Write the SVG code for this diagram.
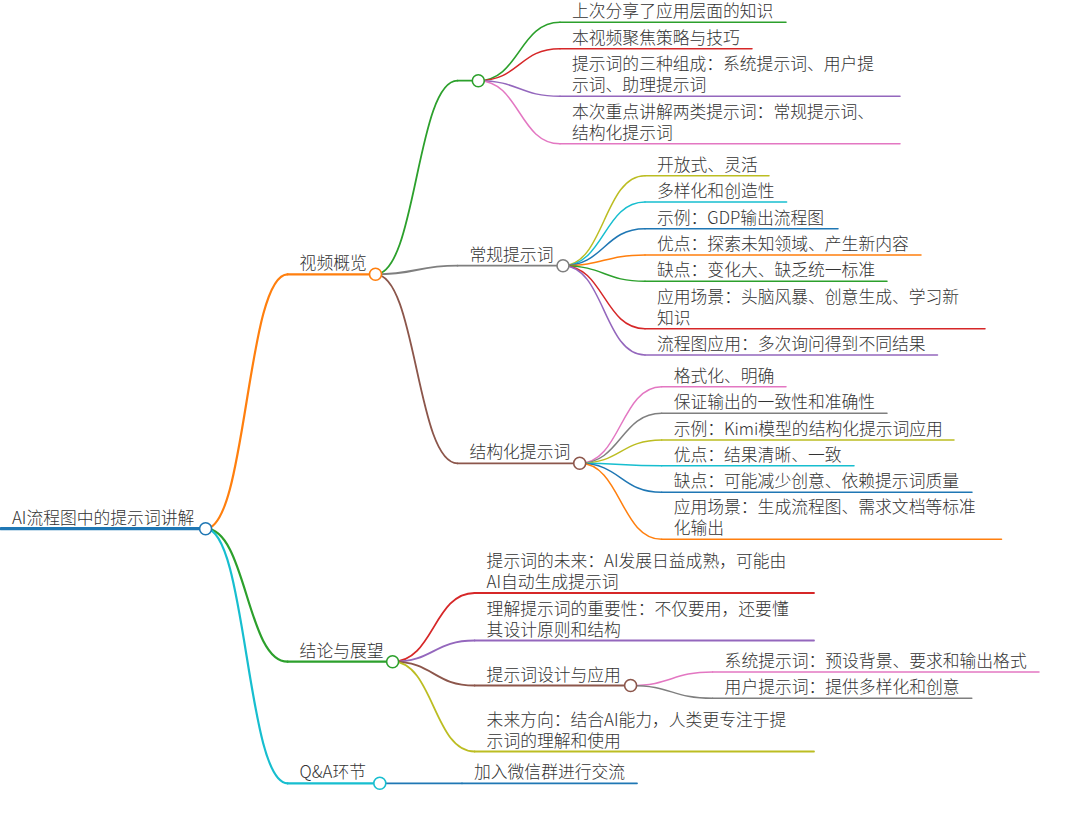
<svg xmlns="http://www.w3.org/2000/svg" width="1080" height="820" viewBox="0 0 1080 820">
<style>
text{font-family:"Noto Sans CJK SC","Noto Sans",sans-serif;font-size:16.8px;font-weight:300;fill:#333}
path{fill:none;stroke-linecap:round}
circle{fill:#fff;stroke-width:1.6}
.d0{stroke-width:3.2}.d1{stroke-width:2.2}.d2{stroke-width:1.8}.d3{stroke-width:1.5}
.blue{stroke:#1f77b4}.orange{stroke:#ff7f0e}.green{stroke:#2ca02c}.red{stroke:#d62728}.purple{stroke:#9467bd}
.brown{stroke:#8c564b}.pink{stroke:#e377c2}.gray{stroke:#7f7f7f}.olive{stroke:#bcbd22}.cyan{stroke:#17becf}
</style>
<rect width="1080" height="820" fill="#fff"/>
<g id="connectors">
<path class="d1 orange" d="M205.6 528.7C246.6 528.7 246.6 274.3 287.6 274.3"/>
<path class="d1 green" d="M205.6 528.7C246.6 528.7 246.6 661.7 287.6 661.7"/>
<path class="d1 cyan" d="M205.6 528.7C246.6 528.7 246.6 783.3 287.6 783.3"/>
<path class="d2 green" d="M375.5 274.3C416.5 274.3 416.5 80.7 457.5 80.7"/>
<path class="d2 gray" d="M375.5 274.3C416.5 274.3 416.5 265.7 457.5 265.7"/>
<path class="d2 brown" d="M375.5 274.3C416.5 274.3 416.5 463.3 457.5 463.3"/>
<path class="d3 green" d="M478.3 80.7C519.2 80.7 519.2 22.3 560 22.3"/>
<path class="d3 red" d="M478.3 80.7C519.2 80.7 519.2 48.7 560 48.7"/>
<path class="d3 purple" d="M478.3 80.7C519.2 80.7 519.2 96.3 560 96.3"/>
<path class="d3 pink" d="M478.3 80.7C519.2 80.7 519.2 143.8 560 143.8"/>
<path class="d3 olive" d="M563 265.7C604 265.7 604 175.7 645 175.7"/>
<path class="d3 cyan" d="M563 265.7C604 265.7 604 202 645 202"/>
<path class="d3 blue" d="M563 265.7C604 265.7 604 228.7 645 228.7"/>
<path class="d3 orange" d="M563 265.7C604 265.7 604 255 645 255"/>
<path class="d3 green" d="M563 265.7C604 265.7 604 281.3 645 281.3"/>
<path class="d3 red" d="M563 265.7C604 265.7 604 328.7 645 328.7"/>
<path class="d3 purple" d="M563 265.7C604 265.7 604 355 645 355"/>
<path class="d3 pink" d="M579.7 463.3C620.7 463.3 620.7 386.7 661.7 386.7"/>
<path class="d3 gray" d="M579.7 463.3C620.7 463.3 620.7 413.3 661.7 413.3"/>
<path class="d3 olive" d="M579.7 463.3C620.7 463.3 620.7 440 661.7 440"/>
<path class="d3 cyan" d="M579.7 463.3C620.7 463.3 620.7 465.7 661.7 465.7"/>
<path class="d3 blue" d="M579.7 463.3C620.7 463.3 620.7 492.3 661.7 492.3"/>
<path class="d3 orange" d="M579.7 463.3C620.7 463.3 620.7 539.3 661.7 539.3"/>
<path class="d2 red" d="M392.6 661.7C433.6 661.7 433.6 593 474.6 593"/>
<path class="d2 purple" d="M392.6 661.7C433.6 661.7 433.6 640.5 474.6 640.5"/>
<path class="d2 brown" d="M392.6 661.7C433.6 661.7 433.6 685.5 474.6 685.5"/>
<path class="d2 olive" d="M392.6 661.7C433.6 661.7 433.6 751.5 474.6 751.5"/>
<path class="d3 pink" d="M630.6 685.5C671.6 685.5 671.6 672 712.6 672"/>
<path class="d3 gray" d="M630.6 685.5C671.6 685.5 671.6 698.3 712.6 698.3"/>
<path class="d2 blue" d="M379.8 783.3H462"/>
</g>
<g id="root"><path class="d0 blue" d="M1 528.7H205.6"/><text x="12" y="523.7">AI流程图中的提示词讲解</text><circle class="blue" cx="205.6" cy="528.7" r="6"/></g>
<g id="n-overview"><path class="d1 orange" d="M287.6 274.3H375.5"/><text x="299.6" y="269.3">视频概览</text><circle class="orange" cx="375.5" cy="274.3" r="6"/></g>
<g id="n-intro"><path class="d2 green" d="M457.5 80.7H478.3"/><circle class="green" cx="478.3" cy="80.7" r="6"/></g>
<g id="n-intro-1"><path class="d3 green" d="M560 22.3H786"/><text x="572" y="17.3">上次分享了应用层面的知识</text></g>
<g id="n-intro-2"><path class="d3 red" d="M560 48.7H752"/><text x="572" y="43.7">本视频聚焦策略与技巧</text></g>
<g id="n-intro-3"><path class="d3 purple" d="M560 96.3H900"/><text x="572" y="70.3">提示词的三种组成：系统提示词、用户提</text><text x="572" y="91.3">示词、助理提示词</text></g>
<g id="n-intro-4"><path class="d3 pink" d="M560 143.8H900"/><text x="572" y="117.8">本次重点讲解两类提示词：常规提示词、</text><text x="572" y="138.8">结构化提示词</text></g>
<g id="n-regular"><path class="d2 gray" d="M457.5 265.7H563"/><text x="469.5" y="260.7">常规提示词</text><circle class="gray" cx="563" cy="265.7" r="6"/></g>
<g id="n-regular-1"><path class="d3 olive" d="M645 175.7H769"/><text x="657" y="170.7">开放式、灵活</text></g>
<g id="n-regular-2"><path class="d3 cyan" d="M645 202H786.6"/><text x="657" y="197">多样化和创造性</text></g>
<g id="n-regular-3"><path class="d3 blue" d="M645 228.7H838"/><text x="657" y="223.7">示例：GDP输出流程图</text></g>
<g id="n-regular-4"><path class="d3 orange" d="M645 255H921"/><text x="657" y="250">优点：探索未知领域、产生新内容</text></g>
<g id="n-regular-5"><path class="d3 green" d="M645 281.3H887"/><text x="657" y="276.3">缺点：变化大、缺乏统一标准</text></g>
<g id="n-regular-6"><path class="d3 red" d="M645 328.7H985"/><text x="657" y="302.7">应用场景：头脑风暴、创意生成、学习新</text><text x="657" y="323.7">知识</text></g>
<g id="n-regular-7"><path class="d3 purple" d="M645 355H937.5"/><text x="657" y="350">流程图应用：多次询问得到不同结果</text></g>
<g id="n-struct"><path class="d2 brown" d="M457.5 463.3H579.7"/><text x="469.5" y="458.3">结构化提示词</text><circle class="brown" cx="579.7" cy="463.3" r="6"/></g>
<g id="n-struct-1"><path class="d3 pink" d="M661.7 386.7H786"/><text x="673.7" y="381.7">格式化、明确</text></g>
<g id="n-struct-2"><path class="d3 gray" d="M661.7 413.3H887"/><text x="673.7" y="408.3">保证输出的一致性和准确性</text></g>
<g id="n-struct-3"><path class="d3 olive" d="M661.7 440H954"/><text x="673.7" y="435">示例：Kimi模型的结构化提示词应用</text></g>
<g id="n-struct-4"><path class="d3 cyan" d="M661.7 465.7H854"/><text x="673.7" y="460.7">优点：结果清晰、一致</text></g>
<g id="n-struct-5"><path class="d3 blue" d="M661.7 492.3H972"/><text x="673.7" y="487.3">缺点：可能减少创意、依赖提示词质量</text></g>
<g id="n-struct-6"><path class="d3 orange" d="M661.7 539.3H1001.5"/><text x="673.7" y="513.3">应用场景：生成流程图、需求文档等标准</text><text x="673.7" y="534.3">化输出</text></g>
<g id="n-conclusion"><path class="d1 green" d="M287.6 661.7H392.6"/><text x="299.6" y="656.7">结论与展望</text><circle class="green" cx="392.6" cy="661.7" r="6"/></g>
<g id="n-concl-1"><path class="d2 red" d="M474.6 593H814"/><text x="486.6" y="567">提示词的未来：AI发展日益成熟，可能由</text><text x="486.6" y="588">AI自动生成提示词</text></g>
<g id="n-concl-2"><path class="d2 purple" d="M474.6 640.5H814"/><text x="486.6" y="614.5">理解提示词的重要性：不仅要用，还要懂</text><text x="486.6" y="635.5">其设计原则和结构</text></g>
<g id="n-design"><path class="d2 brown" d="M474.6 685.5H630.6"/><text x="486.6" y="680.5">提示词设计与应用</text><circle class="brown" cx="630.6" cy="685.5" r="6"/></g>
<g id="n-design-1"><path class="d3 pink" d="M712.6 672H1039"/><text x="724.6" y="667">系统提示词：预设背景、要求和输出格式</text></g>
<g id="n-design-2"><path class="d3 gray" d="M712.6 698.3H971.8"/><text x="724.6" y="693.3">用户提示词：提供多样化和创意</text></g>
<g id="n-concl-4"><path class="d2 olive" d="M474.6 751.5H814"/><text x="486.6" y="725.5">未来方向：结合AI能力，人类更专注于提</text><text x="486.6" y="746.5">示词的理解和使用</text></g>
<g id="n-qa"><path class="d1 cyan" d="M287.6 783.3H379.8"/><text x="299.6" y="778.3">Q&amp;A环节</text><circle class="cyan" cx="379.8" cy="783.3" r="6"/></g>
<g id="n-qa-1"><path class="d2 blue" d="M462 783.3H637"/><text x="474" y="778.3">加入微信群进行交流</text></g>
</svg>
